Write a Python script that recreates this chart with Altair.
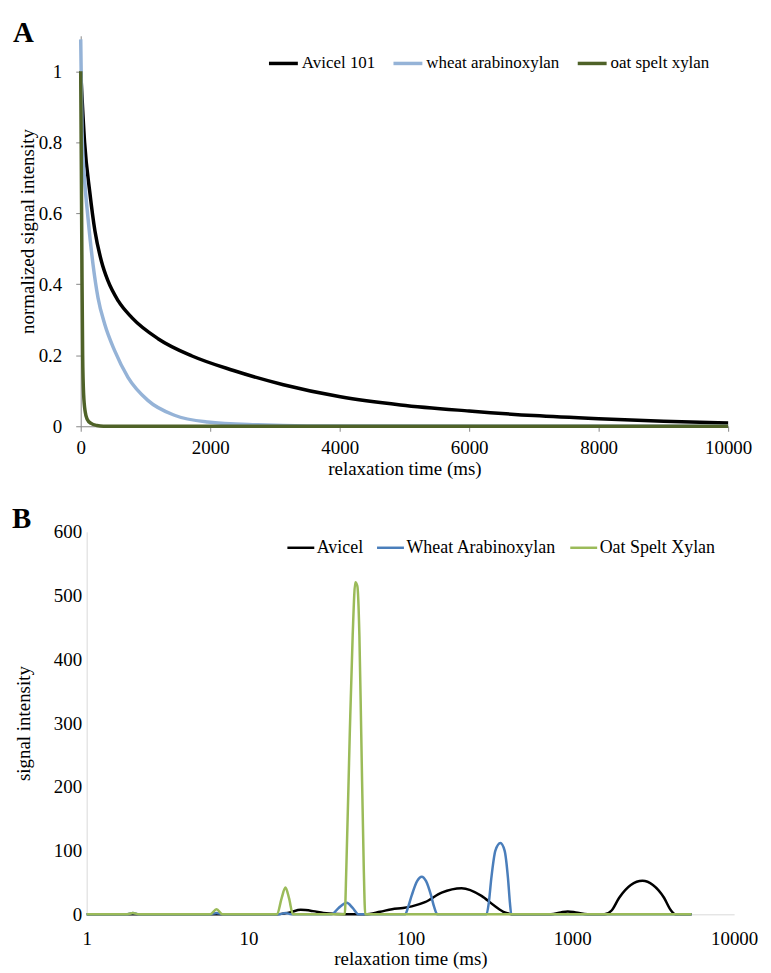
import altair as alt
import pandas as pd

# ---------------- Panel A: decay curves ----------------
a_names = ["Avicel 101", "wheat arabinoxylan", "oat spelt xylan"]
a_colors = ["#000000", "#95b3d7", "#4f6228"]

a_avicel_t = [0, 60, 140, 220, 320, 420, 580, 790, 1200, 1720, 2360, 3130, 4010, 4940, 6000, 7000, 8000, 9000, 10000]
a_avicel_v = [1.0, 0.80, 0.66, 0.55, 0.465, 0.41, 0.353, 0.306, 0.246, 0.198, 0.157, 0.117, 0.083, 0.060, 0.043, 0.030, 0.021, 0.014, 0.009]

a_wheat_t = [0, 20, 62, 113, 190, 267, 370, 524, 730, 1037, 1448, 1960, 2730, 3500, 10000]
a_wheat_v = [1.09, 0.83, 0.69, 0.586, 0.456, 0.362, 0.288, 0.213, 0.138, 0.073, 0.031, 0.012, 0.004, 0.001, 0.0]

a_oat_t = [0, 10, 20, 30, 45, 70, 100, 160, 250, 350, 10000]
a_oat_v = [1.0, 0.72, 0.42, 0.20, 0.09, 0.04, 0.02, 0.008, 0.002, 0.0, 0.0]

a_xticks = [0, 2000, 4000, 6000, 8000, 10000]
a_yticks = [0, 0.2, 0.4, 0.6, 0.8, 1.0]

# ---------------- Panel B: relaxation time distributions ----------------
b_names = ["Avicel", "Wheat Arabinoxylan", "Oat Spelt Xylan"]
b_colors = ["#000000", "#4a7ebb", "#9bbb59"]

b_avicel_t = [1, 15, 18, 21, 25, 29, 35, 45, 52.5, 65, 77, 90, 102, 123, 156, 207, 275, 332, 383, 443,
              600, 738, 850, 938, 1050, 1245, 1578, 1750, 1950, 2300, 2715, 3150, 3690, 4050, 4355, 5460]
b_avicel_v = [0, 0, 3, 7, 5, 2, 0.5, 0, 0, 4, 8, 10, 12.5, 19, 34, 41, 29, 13, 3, 0,
              0, 0, 3, 4.5, 3, 0, 0, 6, 26, 46, 52.5, 46, 26, 7, 0, 0]

b_wheat_t = [1, 1.75, 1.93, 2.1, 5.8, 6.34, 6.9, 15.5, 16.9, 18.4, 32.6, 36, 40.5, 44, 47.8,
             92.8, 97, 102, 110, 117.5, 125, 134, 140, 146.6,
             295, 305, 316, 335, 359.6, 382, 401, 412, 420, 5460]
b_wheat_v = [0, 0, 2, 0, 0, 2, 0, 0, 2, 0, 0, 10, 18, 10, 0,
             0, 12, 30, 52, 59, 52, 30, 12, 0,
             0, 18, 56, 100, 112, 100, 56, 18, 0, 0]

b_oat_t = [1, 1.75, 1.93, 2.1, 5.8, 6.34, 6.9, 15.0, 16.0, 16.9, 17.8, 18.8,
           39.3, 40.2, 42.2, 44.0, 45.7, 47.0, 48.4, 49.7, 51.5, 52.6, 5460]
b_oat_v = [0, 0, 2, 0, 0, 8, 0, 0, 25, 42, 25, 0,
           0, 73, 282, 438, 521, 515, 438, 282, 73, 0, 0]

b_xticks = [1, 10, 100, 1000, 10000]
b_yticks = [0, 100, 200, 300, 400, 500, 600]


def build(names, ts, vs):
    rows = []
    for n, t, v in zip(names, ts, vs):
        for ti, vi in zip(t, v):
            rows.append({"series": n, "t": ti, "v": vi})
    return pd.DataFrame(rows)


df_a = build(a_names, [a_avicel_t, a_wheat_t, a_oat_t], [a_avicel_v, a_wheat_v, a_oat_v])
df_b = build(b_names, [b_avicel_t, b_wheat_t, b_oat_t], [b_avicel_v, b_wheat_v, b_oat_v])

FONT = "Liberation Serif"

lines_a = alt.Chart(df_a).mark_line(strokeWidth=3.5, interpolate="monotone").encode(
    x=alt.X("t:Q", scale=alt.Scale(domain=[0, 10000], nice=False, zero=False),
            axis=alt.Axis(values=a_xticks, format="d", title="relaxation time (ms)",
                          domainColor="#868686", tickColor="#868686", tickSize=5,
                          labelPadding=7, titlePadding=2, grid=False, labelFlush=False)),
    y=alt.Y("v:Q", scale=alt.Scale(domain=[0, 1.1], nice=False),
            axis=alt.Axis(values=a_yticks, format="~g", title="normalized signal intensity",
                          domainColor="#868686", tickColor="#868686", tickSize=5,
                          labelPadding=14, titlePadding=1, grid=False, labelFlush=False)),
    color=alt.Color("series:N", scale=alt.Scale(domain=a_names, range=a_colors),
                    legend=alt.Legend(orient="none", legendX=187, legendY=11, direction="horizontal",
                                      title=None, symbolType="stroke", symbolSize=841,
                                      symbolStrokeWidth=3.5, labelOffset=2, columnPadding=11,
                                      labelFont=FONT, labelFontSize=17, labelColor="#000000")),
)

label_a = alt.Chart(pd.DataFrame({"lab": ["A"]})).mark_text(
    font=FONT, fontSize=29, fontWeight="bold", align="left", baseline="alphabetic", color="#000000"
).encode(x=alt.value(-68), y=alt.value(6), text="lab:N")

top = alt.layer(lines_a, label_a).properties(width=650, height=392)

lines_b = alt.Chart(df_b).mark_line(strokeWidth=2.5, interpolate="monotone").encode(
    x=alt.X("t:Q", scale=alt.Scale(type="log", domain=[1, 10000], range=[6, 656], nice=False),
            axis=alt.Axis(values=b_xticks, format="d", title="relaxation time (ms)",
                          domainColor="#d9d9d9", ticks=False, tickSize=0,
                          labelPadding=15, titlePadding=1, grid=False, labelFlush=False)),
    y=alt.Y("v:Q", scale=alt.Scale(domain=[0, 600], nice=False),
            axis=alt.Axis(values=b_yticks, format="d", title="signal intensity",
                          domainColor="#d9d9d9", ticks=False, tickSize=0, offset=-6,
                          labelPadding=5, titlePadding=20, grid=False, labelFlush=False)),
    color=alt.Color("series:N", scale=alt.Scale(domain=b_names, range=b_colors),
                    legend=alt.Legend(orient="none", legendX=206, legendY=1, direction="horizontal",
                                      title=None, symbolType="stroke", symbolSize=729,
                                      symbolStrokeWidth=2.5, labelOffset=1, columnPadding=8,
                                      labelFont=FONT, labelFontSize=18, labelColor="#000000")),
)

label_b = alt.Chart(pd.DataFrame({"lab": ["B"]})).mark_text(
    font=FONT, fontSize=29, fontWeight="bold", align="left", baseline="alphabetic", color="#000000"
).encode(x=alt.value(-69), y=alt.value(-4), text="lab:N")

bottom = alt.layer(lines_b, label_b).properties(width=656, height=384)

chart = alt.vconcat(top, bottom, spacing=27).resolve_scale(
    color="independent", x="independent", y="independent"
).resolve_legend(color="independent").properties(
    padding={"left": 4, "top": 9, "right": 5, "bottom": 5},
    background="#ffffff"
).configure_view(stroke=None).configure_axis(
    labelFont=FONT, labelFontSize=19, labelColor="#000000",
    titleFont=FONT, titleFontSize=19, titleFontWeight="normal", titleColor="#000000"
)

chart.save("out.html", embed_options={"renderer": "svg", "actions": False})
